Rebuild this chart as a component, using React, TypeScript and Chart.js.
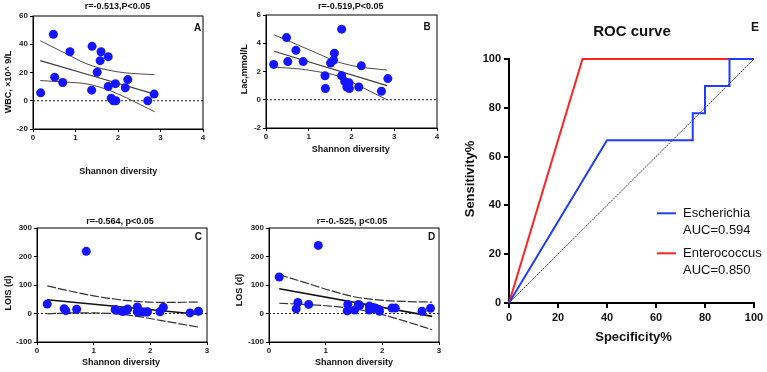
import React, { useEffect, useRef } from "react";
import { Chart, registerables } from "chart.js";

Chart.register(...registerables);

const FONT = '"Liberation Sans", Arial, Helvetica, sans-serif';
const POINT_BLUE = "#1414ff";

// Shannon diversity of each patient (x values shared by panels A–D)
const shannonIndex = [0.18, 0.48, 0.51, 0.7, 0.87, 1.38, 1.39, 1.51, 1.58, 1.6, 1.77, 1.77, 1.84, 1.89, 1.94, 1.95, 2.17, 2.23, 2.7, 2.85];

// Clinical measures per patient
const wbcValues = [5.6, 47, 16.7, 12.9, 34.7, 7.5, 38.5, 20.2, 28.4, 34.7, 31.2, 10.1, 1.8, 0, 12.1, 0, 9.2, 15, 0, 4.7];
const lacValues = [2.5, 4.4, 2.7, 3.5, 2.7, 1.7, 0.8, 2.6, 2.8, 3.3, 5.0, 1.7, 1.3, 0.9, 1.2, 0.8, 0.9, 2.4, 0.6, 1.5];
const loisValues = [33, 17, 10, 15, 218, 14, 12, 7, 11, 16, 23, 6, 6, 5, 5, 6, 6, 22, 2, 8];
const losValues = [128, 16, 39, 32, 239, 9, 32, 12, 32, 28, 26, 12, 21, 18, 14, 8, 19, 19, 8, 18];

// Linear fits (end points) and 95% confidence bands
const wbcFitX = [0.17, 2.86];
const wbcFit = [28.4, 4.7];
const wbcBandX = [0.17, 0.78, 1.25, 1.72, 2.19, 2.86];
const wbcUpper = [42.5, 33.3, 26.3, 22, 19.7, 18.5];
const wbcLower = [14.3, 13.2, 12, 8.2, 2.2, -7.8];

const lacFitX = [0.19, 2.83];
const lacFit = [3.43, 1.0];
const lacBandX = [0.19, 0.73, 1.19, 1.66, 2.13, 2.83];
const lacUpper = [4.6, 3.9, 3.3, 2.7, 2.35, 2.1];
const lacLower = [2.3, 2.2, 2.0, 1.7, 1.06, 0.0];

const loisFitX = [0.18, 2.86];
const loisFit = [48, -3];
const loisBandX = [0.18, 0.6, 1.0, 1.4, 1.8, 2.2, 2.86];
const loisUpper = [97, 78, 62, 50, 42, 39, 40];
const loisLower = [-1, 2, 2, -1, -11, -25, -48];

const losFitX = [0.18, 2.88];
const losFit = [87, -10];
const losBandX = [0.18, 0.61, 1.08, 1.55, 2.02, 2.45, 2.88];
const losUpper = [136, 110, 81, 57, 46, 42, 40];
const losLower = [36, 32, 26, 15, -5, -30, -57];

// ROC curves (specificity %, sensitivity %)
const rocLabels = ["Escherichia", "Enterococcus"];
const rocAuc = ["AUC=0.594", "AUC=0.850"];
const rocColors = ["#1f3cff", "#ff2424"];
const escherichiaSpec = [0, 40, 75, 75, 80, 80, 90, 90, 100];
const escherichiaSens = [0, 66.7, 66.7, 77.8, 77.8, 88.9, 88.9, 100, 100];
const enterococcusSpec = [0, 30, 100];
const enterococcusSens = [0, 100, 100];
const referenceLine = [0, 100];

type Frame = { left: number; top: number; width: number; height: number };
type Area = { left: number; top: number; right: number; bottom: number };
type TextItem = { text: string; x: number; y: number; font: string; align?: CanvasTextAlign; rotate?: boolean };

const zip = (xs: number[], ys: number[]) => xs.map((x, i) => ({ x, y: ys[i] }));

// Draws free text (titles, panel letters, axis titles) in page coordinates
const textPlugin = {
  id: "panelText",
  afterDraw(chart: any, _args: any, opts: any) {
    const { ctx } = chart;
    const frame: Frame = opts.frame;
    const items: TextItem[] = opts.items || [];
    ctx.save();
    ctx.fillStyle = "#111";
    ctx.textBaseline = "middle";
    for (const t of items) {
      ctx.save();
      ctx.font = t.font;
      ctx.textAlign = t.align || "center";
      ctx.translate(t.x - frame.left, t.y - frame.top);
      if (t.rotate) ctx.rotate(-Math.PI / 2);
      ctx.fillText(t.text, 0, 0);
      ctx.restore();
    }
    ctx.restore();
  },
};

// Closed frame around the plot and a dotted line at y = 0
const boxPlugin = {
  id: "plotBox",
  beforeDatasetsDraw(chart: any, _args: any, opts: any) {
    if (!opts.enabled) return;
    const { ctx, chartArea, scales } = chart;
    const y0 = scales.y.getPixelForValue(0);
    ctx.save();
    ctx.strokeStyle = "#222";
    ctx.lineWidth = 1;
    ctx.setLineDash([2, 2]);
    ctx.beginPath();
    ctx.moveTo(chartArea.left, y0);
    ctx.lineTo(chartArea.right, y0);
    ctx.stroke();
    ctx.restore();
  },
  afterDraw(chart: any, _args: any, opts: any) {
    if (!opts.enabled) return;
    const { ctx, chartArea } = chart;
    ctx.save();
    ctx.strokeStyle = "#000";
    ctx.lineWidth = 1;
    ctx.strokeRect(chartArea.left, chartArea.top, chartArea.right - chartArea.left, chartArea.bottom - chartArea.top);
    ctx.restore();
  },
};

// Legend with two-line entries (name + AUC)
const rocLegendPlugin = {
  id: "rocLegend",
  afterDraw(chart: any, _args: any, opts: any) {
    if (!opts.enabled) return;
    const { ctx } = chart;
    const frame: Frame = opts.frame;
    ctx.save();
    ctx.textBaseline = "middle";
    ctx.textAlign = "left";
    ctx.font = `13px ${FONT}`;
    rocLabels.forEach((label, i) => {
      const y = opts.top + i * opts.gap - frame.top;
      const x = opts.left - frame.left;
      ctx.strokeStyle = rocColors[i];
      ctx.lineWidth = 2;
      ctx.beginPath();
      ctx.moveTo(x, y);
      ctx.lineTo(x + 19, y);
      ctx.stroke();
      ctx.fillStyle = "#111";
      ctx.fillText(label, x + 26, y);
      ctx.fillText(rocAuc[i], x + 26, y + 17);
    });
    ctx.restore();
  },
};

type PanelSpec = {
  frame: Frame;
  area: Area;
  xMax: number;
  yMin: number;
  yMax: number;
  yStep: number;
  values: number[];
  fitX: number[];
  fit: number[];
  bandX: number[];
  upper: number[];
  lower: number[];
  dashedBands: boolean;
  texts: TextItem[];
};

const bold = (px: number) => `bold ${px}px ${FONT}`;

function panelTexts(title: string, letter: string, yTitle: string, p: number[][]): TextItem[] {
  return [
    { text: title, x: p[0][0], y: p[0][1], font: bold(9) },
    { text: letter, x: p[1][0], y: p[1][1], font: bold(10) },
    { text: yTitle, x: p[2][0], y: p[2][1], font: bold(9), rotate: true },
    { text: "Shannon diversity", x: p[3][0], y: p[3][1], font: bold(9) },
  ];
}

const panels: PanelSpec[] = [
  {
    frame: { left: 0, top: 0, width: 228, height: 182 },
    area: { left: 33, top: 16, right: 203, bottom: 129 },
    xMax: 4, yMin: -20, yMax: 60, yStep: 20,
    values: wbcValues, fitX: wbcFitX, fit: wbcFit, bandX: wbcBandX, upper: wbcUpper, lower: wbcLower,
    dashedBands: false,
    texts: panelTexts("r=-0.513,P<0.05", "A", "WBC, ×10^ 9/L", [[117.5, 6.7], [197.7, 28.3], [8.3, 82], [118.3, 172]]),
  },
  {
    frame: { left: 228, top: 0, width: 228, height: 182 },
    area: { left: 266, top: 15, right: 437, bottom: 128 },
    xMax: 4, yMin: -2, yMax: 6, yStep: 2,
    values: lacValues, fitX: lacFitX, fit: lacFit, bandX: lacBandX, upper: lacUpper, lower: lacLower,
    dashedBands: false,
    texts: panelTexts("r=-0.519,P<0.05", "B", "Lac,mmol/L", [[350.7, 6.7], [427, 27.3], [245, 69.3], [350.7, 150]]),
  },
  {
    frame: { left: 0, top: 182, width: 228, height: 190 },
    area: { left: 37, top: 228, right: 207, bottom: 342 },
    xMax: 3, yMin: -100, yMax: 300, yStep: 100,
    values: loisValues, fitX: loisFitX, fit: loisFit, bandX: loisBandX, upper: loisUpper, lower: loisLower,
    dashedBands: true,
    texts: panelTexts("r=-0.564, p<0.05", "C", "LOIS (d)", [[120, 221.7], [198.3, 237.3], [9, 293], [121, 363]]),
  },
  {
    frame: { left: 228, top: 182, width: 228, height: 190 },
    area: { left: 269, top: 228, right: 439, bottom: 342 },
    xMax: 3, yMin: -100, yMax: 300, yStep: 100,
    values: losValues, fitX: losFitX, fit: losFit, bandX: losBandX, upper: losUpper, lower: losLower,
    dashedBands: true,
    texts: panelTexts("r=-0.-525, p<0.05", "D", "LOS (d)", [[352, 221.7], [431.7, 237.3], [240, 290], [354, 363]]),
  },
];

function buildPanel(canvas: HTMLCanvasElement, s: PanelSpec) {
  const { frame, area } = s;
  const tickFont = { family: FONT, size: 8, weight: "bold" as const };
  const bandStyle = s.dashedBands
    ? { borderColor: "#333", borderWidth: 1.2, borderDash: [9, 2] }
    : { borderColor: "#4a4a4a", borderWidth: 1 };
  const fitStyle = s.dashedBands
    ? { borderColor: "#111", borderWidth: 1.6 }
    : { borderColor: "#3a3a3a", borderWidth: 1.1 };
  const line = { showLine: true, pointRadius: 0, pointHoverRadius: 0, fill: false, cubicInterpolationMode: "monotone" as const };
  return new Chart(canvas, {
    type: "scatter",
    data: {
      datasets: [
        {
          data: zip(shannonIndex, s.values),
          backgroundColor: POINT_BLUE,
          borderWidth: 0,
          pointRadius: 4.5,
          pointHoverRadius: 4.5,
        },
        { data: zip(s.fitX, s.fit), ...line, ...fitStyle },
        { data: zip(s.bandX, s.upper), ...line, ...bandStyle },
        { data: zip(s.bandX, s.lower), ...line, ...bandStyle },
      ],
    },
    options: {
      animation: false,
      responsive: false,
      events: [],
      layout: {
        padding: { left: 0, bottom: 0, top: area.top - frame.top, right: frame.left + frame.width - area.right },
      },
      plugins: {
        legend: { display: false },
        tooltip: { enabled: false },
        title: { display: false },
        panelText: { frame, items: s.texts },
        plotBox: { enabled: true },
        rocLegend: { enabled: false },
      } as any,
      scales: {
        x: {
          type: "linear",
          min: 0,
          max: s.xMax,
          ticks: { stepSize: 1, font: tickFont, color: "#222", padding: 1, maxRotation: 0 },
          grid: { drawOnChartArea: false, drawTicks: true, tickLength: 3, color: "#000" },
          border: { display: true, color: "#000", width: 1 },
          afterFit: (sc: any) => {
            sc.height = frame.top + frame.height - area.bottom;
          },
        },
        y: {
          type: "linear",
          min: s.yMin,
          max: s.yMax,
          ticks: { stepSize: s.yStep, font: tickFont, color: "#222", padding: 2 },
          grid: { drawOnChartArea: false, drawTicks: true, tickLength: 3, color: "#000" },
          border: { display: true, color: "#000", width: 1 },
          afterFit: (sc: any) => {
            sc.width = area.left - frame.left;
          },
        },
      },
    },
    plugins: [textPlugin, boxPlugin, rocLegendPlugin],
  });
}

const rocFrame: Frame = { left: 456, top: 0, width: 311, height: 372 };
const rocArea: Area = { left: 509, top: 59, right: 754, bottom: 303 };

function buildRoc(canvas: HTMLCanvasElement) {
  const frame = rocFrame;
  const area = rocArea;
  const tickFont = { family: FONT, size: 11, weight: "bold" as const };
  const line = { showLine: true, pointRadius: 0, pointHoverRadius: 0, fill: false, tension: 0, clip: false as const };
  return new Chart(canvas, {
    type: "scatter",
    data: {
      datasets: [
        { label: rocLabels[0], data: zip(escherichiaSpec, escherichiaSens), borderColor: rocColors[0], borderWidth: 2, ...line },
        { label: rocLabels[1], data: zip(enterococcusSpec, enterococcusSens), borderColor: rocColors[1], borderWidth: 2, ...line },
        { data: zip(referenceLine, referenceLine), borderColor: "#333", borderWidth: 1, borderDash: [2, 1], ...line },
      ],
    },
    options: {
      animation: false,
      responsive: false,
      events: [],
      layout: {
        padding: { left: 0, bottom: 0, top: area.top - frame.top, right: frame.left + frame.width - area.right },
      },
      plugins: {
        legend: { display: false },
        tooltip: { enabled: false },
        title: { display: false },
        panelText: {
          frame,
          items: [
            { text: "ROC curve", x: 632, y: 31.7, font: bold(15) },
            { text: "E", x: 755, y: 27.3, font: bold(12) },
            { text: "Sensitivity%", x: 470, y: 179, font: bold(13), rotate: true },
            { text: "Specificity%", x: 633.5, y: 337, font: bold(13) },
          ],
        },
        plotBox: { enabled: false },
        rocLegend: { enabled: true, frame, left: 657, top: 213.3, gap: 40 },
      } as any,
      scales: {
        x: {
          type: "linear",
          min: 0,
          max: 100,
          ticks: { stepSize: 20, font: tickFont, color: "#111", padding: 3, maxRotation: 0 },
          grid: { drawOnChartArea: false, drawTicks: true, tickLength: 5, color: "#000", lineWidth: 2 },
          border: { display: true, color: "#000", width: 2 },
          afterFit: (sc: any) => {
            sc.height = frame.top + frame.height - area.bottom;
          },
        },
        y: {
          type: "linear",
          min: 0,
          max: 100,
          ticks: { stepSize: 20, font: tickFont, color: "#111", padding: 3 },
          grid: { drawOnChartArea: false, drawTicks: true, tickLength: 5, color: "#000", lineWidth: 2 },
          border: { display: true, color: "#000", width: 2 },
          afterFit: (sc: any) => {
            sc.width = area.left - frame.left;
          },
        },
      },
    },
    plugins: [textPlugin, boxPlugin, rocLegendPlugin],
  });
}

function ChartCanvas({ frame, build }: { frame: Frame; build: (c: HTMLCanvasElement) => Chart }) {
  const ref = useRef<HTMLCanvasElement>(null);
  useEffect(() => {
    if (!ref.current) return;
    const chart = build(ref.current);
    return () => chart.destroy();
  }, []);
  return (
    <canvas
      ref={ref}
      width={frame.width}
      height={frame.height}
      style={{ position: "absolute", left: frame.left, top: frame.top, width: frame.width, height: frame.height }}
    />
  );
}

export default function App() {
  return (
    <div style={{ position: "fixed", left: 0, top: 0, width: 767, height: 372, background: "#fff", overflow: "hidden" }}>
      {panels.map((p, i) => (
        <ChartCanvas key={i} frame={p.frame} build={(c) => buildPanel(c, p)} />
      ))}
      <ChartCanvas frame={rocFrame} build={buildRoc} />
    </div>
  );
}
